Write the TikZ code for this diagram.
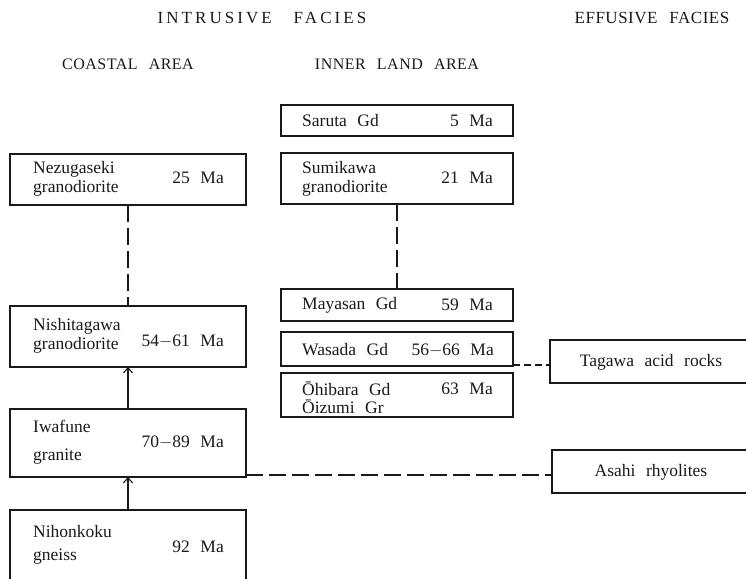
\documentclass[tikz,border=0pt]{standalone}
\usepackage{fontspec}
\setmainfont[WordSpace=2.4]{Liberation Serif}
\newfontfamily\titlefont[LetterSpace=18,WordSpace=3]{Liberation Serif}
\newfontfamily\headfont[LetterSpace=3,WordSpace=2.5]{Liberation Serif}
\usepackage{tikz}
\usetikzlibrary{calc}
\usetikzlibrary{arrows.meta}
\usetikzlibrary{positioning}
\definecolor{inkblack}{RGB}{25, 25, 25}

\tikzset{
    rockbox/.style={draw=inkblack, line width=1.1pt, inner sep=0pt, outer sep=0pt, anchor=north west},
    rockname/.style={inkblack, anchor=west, align=left, inner sep=0pt, font=\fontsize{17.5}{18.5}\selectfont},
    rockage/.style={inkblack, anchor=east, inner sep=0pt, font=\fontsize{17.5}{18.5}\selectfont},
    longdash/.style={draw=inkblack, line width=1.2pt, dash pattern=on 17pt off 6pt},
    shortdash/.style={draw=inkblack, line width=1.2pt, dash pattern=on 7pt off 4pt},
    uparrow/.style={draw=inkblack, line width=1.1pt, -{Straight Barb[length=5pt, width=9pt]}}
}

\begin{document}
\begin{tikzpicture}[x=1pt, y=-1pt]
            \useasboundingbox (0,0) rectangle (746,578);
            \clip (0,0) rectangle (746,578);
            % headings
            \node[inkblack, font=\titlefont\fontsize{17}{18}\selectfont] (intrusive) at (262,18) {INTRUSIVE FACIES};
            \node[inkblack, font=\headfont\fontsize{17}{18}\selectfont] (effusive) at (652,18) {EFFUSIVE FACIES};
            \node[inkblack, font=\headfont\fontsize{16}{18}\selectfont] (coastal) at (128,64) {COASTAL AREA};
            \node[inkblack, font=\headfont\fontsize{16}{18}\selectfont] (inner) at (397,64) {INNER LAND AREA};

            % coastal area
            \node[rockbox, minimum width=236pt, minimum height=51pt] (nezugaseki) at (10,154) {};
            \node[rockname] (nezugaseki-name) at (33,179) {Nezugaseki\\granodiorite};
            \node[rockage]  (nezugaseki-age)  at (224,178) {25 Ma};

            \node[rockbox, minimum width=236pt, minimum height=61pt] (nishitagawa) at (10,306) {};
            \node[rockname] (nishitagawa-name) at (33,336) {Nishitagawa\\granodiorite};
            \node[rockage]  (nishitagawa-age)  at (224,341) {54$-$61 Ma};

            \node[rockbox, minimum width=236pt, minimum height=68pt] (iwafune) at (10,409) {};
            \node[rockname] (iwafune-name) at (33,442) {Iwafune\\[9pt]granite};
            \node[rockage]  (iwafune-age)  at (224,442) {70$-$89 Ma};

            \node[rockbox, minimum width=236pt, minimum height=70pt] (nihonkoku) at (10,510) {};
            \node[rockname] (nihonkoku-name) at (33,545) {Nihonkoku\\[4pt]gneiss};
            \node[rockage]  (nihonkoku-age)  at (224,547) {92 Ma};

            % inner land area
            \node[rockbox, minimum width=232pt, minimum height=31pt] (saruta) at (281,105) {};
            \node[rockname] (saruta-name) at (302,121) {Saruta Gd};
            \node[rockage]  (saruta-age)  at (493,121) {5 Ma};

            \node[rockbox, minimum width=232pt, minimum height=51pt] (sumikawa) at (281,153) {};
            \node[rockname] (sumikawa-name) at (302,179) {Sumikawa\\granodiorite};
            \node[rockage]  (sumikawa-age)  at (493,178) {21 Ma};

            \node[rockbox, minimum width=232pt, minimum height=32pt] (mayasan) at (281,289) {};
            \node[rockname] (mayasan-name) at (302,305) {Mayasan Gd};
            \node[rockage]  (mayasan-age)  at (493,305) {59 Ma};

            \node[rockbox, minimum width=232pt, minimum height=34pt] (wasada) at (281,332) {};
            \node[rockname] (wasada-name) at (302,350) {Wasada Gd};
            \node[rockage]  (wasada-age)  at (494,350) {56$-$66 Ma};

            \node[rockbox, minimum width=232pt, minimum height=44pt] (ohibara) at (281,373) {};
            \node[rockname] (ohibara-name) at (302,398) {Ōhibara Gd\\Ōizumi Gr};
            \node[rockage]  (ohibara-age)  at (493,389) {63 Ma};

            % effusive facies
            \node[rockbox, minimum width=206pt, minimum height=43pt] (tagawa) at (550,340) {};
            \node[rockname, anchor=center] (tagawa-name) at (651,362) {Tagawa acid rocks};

            \node[rockbox, minimum width=204pt, minimum height=43pt] (asahi) at (552,450) {};
            \node[rockname, anchor=center] (asahi-name) at (651,472) {Asahi rhyolites};

            % connectors
            \draw[longdash] (nezugaseki.south) -- (nishitagawa.north);
            \draw[uparrow] (iwafune.north) -- (nishitagawa.south);
            \draw[uparrow] (nihonkoku.north) -- (iwafune.south);
            \draw[longdash] (sumikawa.south) -- (mayasan.north);
            \coordinate (wasada-out) at ([yshift=1pt]wasada.south east);
            \draw[shortdash] (wasada-out) -- (wasada-out -| tagawa.west);
            \coordinate (iwafune-out) at ([yshift=2pt]iwafune.south east);
            \draw[longdash] (iwafune-out) -- (iwafune-out -| asahi.west);
        \end{tikzpicture}
\end{document}
